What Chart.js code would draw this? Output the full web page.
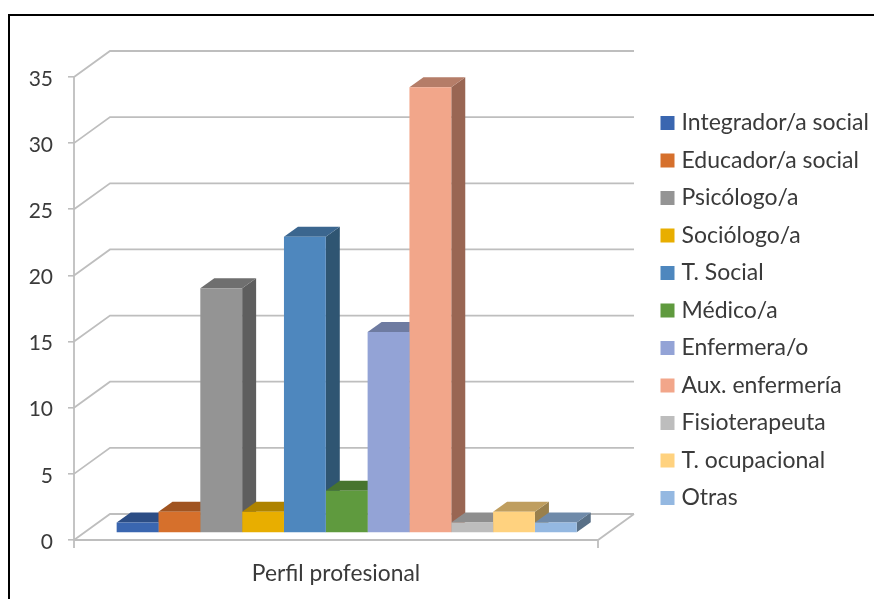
<!DOCTYPE html>
<html lang="es">
  <head>
    <meta charset="UTF-8" />
    <title>Perfil profesional</title>
    <script src="https://cdn.jsdelivr.net/npm/chart.js@4"></script>
    <style>
      html, body { margin: 0; padding: 0; background: #fff; overflow: hidden; }
      #wrap { position: relative; width: 874px; height: 599px; }
      #frame {
        position: absolute; left: 8px; top: 14px; right: 0; bottom: 0;
        border-left: 2.5px solid #000; border-top: 2.5px solid #000;
        pointer-events: none;
      }
    </style>
  </head>
  <body>
    <div id="wrap">
      <canvas id="myChart" width="874" height="599"></canvas>
      <div id="frame"></div>
    </div>

    <script>
      const categories = ['Perfil profesional'];
      const profiles = ['Integrador/a social', 'Educador/a social', 'Psicólogo/a', 'Sociólogo/a', 'T. Social', 'Médico/a', 'Enfermera/o', 'Aux. enfermería', 'Fisioterapeuta', 'T. ocupacional', 'Otras'];
      const values = [0.8, 1.6, 18.5, 1.6, 22.4, 3.2, 15.2, 33.7, 0.8, 1.6, 0.8];
      const frontColors = ['#3A66B0', '#D6702C', '#949494', '#E8AE00', '#4E87BE', '#5F9A3E', '#93A3D6', '#F2A68A', '#BDBDBD', '#FFD27F', '#94B8E1'];
      const topColors = ['#2C4D85', '#A05421', '#6F6F6F', '#AE8300', '#3B668F', '#47742F', '#6E7BA1', '#B57D68', '#8E8E8E', '#BF9E5F', '#6F8AA9'];
      const sideColors = ['#233D6A', '#80431A', '#5E5E5E', '#8B6800', '#2F5572', '#395D25', '#586281', '#996653', '#717171', '#99804C', '#597087'];

      const lineColor = '#BEBEBE';
      const textColor = '#3A3A3A';
      // how far the back wall sits behind the front plane
      const wall = { dx: 36, dy: -26 };
      // the bars stand a little way in from the front edge of the floor
      const inset = { dx: 10.7, dy: -7 };
      const depth = { dx: 14, dy: -10 };

      function poly(ctx, pts, fill) {
        ctx.beginPath();
        pts.forEach((p, i) => (i ? ctx.lineTo(p[0], p[1]) : ctx.moveTo(p[0], p[1])));
        ctx.closePath();
        ctx.fillStyle = fill;
        ctx.fill();
      }

      // back wall, left wall and floor, all hung off the y scale
      const walls = {
        id: 'walls',
        beforeDatasetsDraw(chart) {
          const { ctx, chartArea: area, scales } = chart;
          const yAxis = scales.y;
          ctx.save();
          ctx.strokeStyle = lineColor;
          ctx.lineWidth = 1.8;
          ctx.beginPath();
          yAxis.ticks.forEach(t => {
            const py = yAxis.getPixelForValue(t.value);
            ctx.moveTo(area.left, py);
            ctx.lineTo(area.left + wall.dx, py + wall.dy);
            ctx.lineTo(area.right + wall.dx, py + wall.dy);
          });
          const y0 = yAxis.getPixelForValue(0);
          ctx.moveTo(area.left, yAxis.top);
          ctx.lineTo(area.left, y0 + 8);
          ctx.moveTo(area.left, y0);
          ctx.lineTo(area.right, y0);
          ctx.lineTo(area.right + wall.dx, y0 + wall.dy);
          ctx.moveTo(area.right, y0);
          ctx.lineTo(area.right, y0 + 8);
          ctx.stroke();
          ctx.restore();
        }
      };

      // top and side faces of each bar, then the fronts get shifted to the same plane
      const bars3d = {
        id: 'bars3d',
        beforeDatasetsDraw(chart) {
          const { ctx } = chart;
          ctx.save();
          ctx.translate(inset.dx, inset.dy);
          chart.data.datasets.forEach((ds, i) => {
            const bar = chart.getDatasetMeta(i).data[0];
            const l = bar.x - bar.width / 2;
            const r = bar.x + bar.width / 2;
            const t = bar.y;
            const b = bar.base;
            poly(ctx, [[r, t], [r + depth.dx, t + depth.dy], [r + depth.dx, b + depth.dy], [r, b]], sideColors[i]);
            poly(ctx, [[l, t], [l + depth.dx, t + depth.dy], [r + depth.dx, t + depth.dy], [r, t]], topColors[i]);
          });
        },
        afterDatasetsDraw(chart) {
          chart.ctx.restore();
        }
      };

      // the layout caps a side box's width, so the legend sets its own after fitting
      const legendWidth = {
        id: 'legendWidth',
        beforeUpdate(chart) {
          const legend = chart.legend;
          const fit = legend.fit;
          legend.fit = function () {
            fit.call(this);
            this.width = 223.5;
          };
        }
      };

      const ctx = document.getElementById('myChart').getContext('2d');
      new Chart(ctx, {
        type: 'bar',
        data: {
          labels: categories,
          datasets: profiles.map((name, i) => ({
            label: name,
            data: [values[i]],
            backgroundColor: frontColors[i],
            barPercentage: 1,
            categoryPercentage: 0.878
          }))
        },
        plugins: [walls, bars3d, legendWidth],
        options: {
          responsive: false,
          animation: false,
          layout: { padding: { top: 77, right: 0, left: 0, bottom: 0 } },
          scales: {
            x: {
              afterFit: s => { s.height = 59; },
              grid: { display: false },
              border: { display: false },
              ticks: { color: textColor, font: { family: 'Lato', size: 22.8 }, padding: 12, maxRotation: 0 }
            },
            y: {
              min: 0,
              max: 35,
              afterFit: s => { s.width = 74; },
              grid: { drawOnChartArea: false, color: lineColor, tickLength: 6, lineWidth: 1.6 },
              border: { display: false },
              ticks: { stepSize: 5, color: textColor, font: { family: 'Lato', size: 21 }, padding: 15, labelOffset: 2 }
            },
            // keeps the gap between the plot and the legend
            gap: {
              position: 'right',
              afterFit: s => { s.width = 52.5; },
              grid: { display: false },
              border: { display: false },
              ticks: { display: false }
            }
          },
          plugins: {
            tooltip: { enabled: false },
            legend: {
              position: 'right',
              align: 'start',
              // empty title only pushes the rows down from the top of the box
              title: { display: true, text: '', font: { size: 1 }, padding: { top: 18.8, bottom: 0 } },
              labels: {
                // square swatch with a narrow slot, so the text sits close to it
                usePointStyle: true,
                pointStyle: 'rect',
                boxWidth: 5,
                boxHeight: 14,
                color: textColor,
                font: { family: 'Lato', size: 23 },
                padding: 14.5
              }
            }
          }
        }
      });
    </script>
  </body>
</html>
